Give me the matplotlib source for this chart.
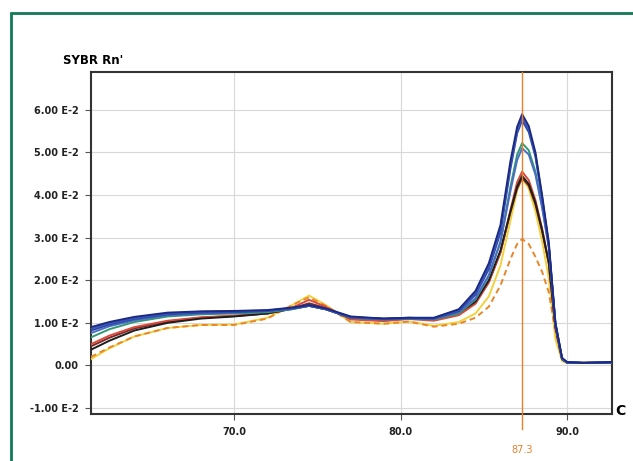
import matplotlib
matplotlib.use("Agg")
import matplotlib.pyplot as plt
from matplotlib.patches import Rectangle
import numpy as np

# temperature sampling points (deg C)
temps = [61.4, 62.5, 64, 66, 68, 70, 72, 73.5, 74.5, 75.5, 77, 79, 80.5, 82,
         83.5, 84.5, 85.3, 86.0, 86.6, 87.0, 87.3, 87.7, 88.1, 88.5, 88.9,
         89.3, 89.7, 90.0, 91, 92.7]

# derivative reporter signal, units of 1e-2
navy_a = [0.90, 1.02, 1.14, 1.24, 1.27, 1.28, 1.30, 1.36, 1.42, 1.34, 1.15, 1.10, 1.12, 1.12,
          1.32, 1.75, 2.40, 3.30, 4.80, 5.60, 5.90, 5.62, 5.00, 4.00, 2.90, 1.00, 0.18, 0.08, 0.06, 0.08]
navy_b = [0.86, 0.99, 1.11, 1.22, 1.26, 1.27, 1.29, 1.35, 1.41, 1.33, 1.14, 1.09, 1.11, 1.11,
          1.30, 1.70, 2.32, 3.20, 4.70, 5.50, 5.82, 5.55, 4.95, 3.95, 2.85, 0.98, 0.16, 0.07, 0.06, 0.07]
navy_c = [0.82, 0.96, 1.09, 1.20, 1.24, 1.25, 1.28, 1.34, 1.40, 1.32, 1.13, 1.09, 1.11, 1.10,
          1.28, 1.66, 2.26, 3.12, 4.62, 5.45, 5.75, 5.48, 4.90, 3.92, 2.82, 0.96, 0.16, 0.07, 0.06, 0.07]
teal = [0.66, 0.85, 1.02, 1.15, 1.20, 1.22, 1.25, 1.32, 1.40, 1.32, 1.12, 1.08, 1.10, 1.08,
        1.22, 1.55, 2.10, 2.90, 4.20, 4.95, 5.22, 5.05, 4.55, 3.75, 2.80, 1.00, 0.15, 0.07, 0.06, 0.07]
steel = [0.76, 0.92, 1.06, 1.18, 1.22, 1.24, 1.27, 1.33, 1.40, 1.32, 1.12, 1.08, 1.10, 1.09,
         1.25, 1.58, 2.12, 2.90, 4.10, 4.82, 5.10, 4.95, 4.48, 3.70, 2.78, 0.98, 0.15, 0.07, 0.06, 0.07]
red = [0.50, 0.70, 0.90, 1.05, 1.13, 1.17, 1.22, 1.36, 1.54, 1.38, 1.08, 1.04, 1.09, 1.05,
       1.18, 1.45, 1.95, 2.65, 3.65, 4.30, 4.55, 4.35, 3.88, 3.22, 2.42, 0.90, 0.15, 0.07, 0.06, 0.07]
black = [0.37, 0.58, 0.82, 1.00, 1.10, 1.15, 1.22, 1.33, 1.40, 1.32, 1.12, 1.10, 1.12, 1.10,
         1.24, 1.50, 2.00, 2.70, 3.62, 4.20, 4.45, 4.26, 3.82, 3.18, 2.42, 0.92, 0.15, 0.07, 0.06, 0.07]
maroon = [0.45, 0.65, 0.87, 1.03, 1.12, 1.16, 1.22, 1.34, 1.46, 1.35, 1.10, 1.07, 1.10, 1.08,
          1.22, 1.47, 1.96, 2.66, 3.60, 4.15, 4.40, 4.22, 3.78, 3.15, 2.40, 0.90, 0.15, 0.07, 0.06, 0.07]
yellow = [0.15, 0.40, 0.68, 0.88, 0.95, 0.96, 1.12, 1.42, 1.64, 1.42, 1.02, 0.98, 1.03, 0.93,
          1.02, 1.22, 1.62, 2.35, 3.40, 4.10, 4.40, 4.15, 3.62, 2.92, 2.05, 0.62, 0.10, 0.06, 0.06, 0.07]
orange = [0.20, 0.42, 0.68, 0.88, 0.95, 0.95, 1.10, 1.42, 1.60, 1.40, 1.02, 0.98, 1.03, 0.91,
          0.98, 1.12, 1.38, 1.88, 2.50, 2.85, 2.97, 2.85, 2.55, 2.20, 1.72, 0.80, 0.14, 0.06, 0.06, 0.07]

curves = [
    (yellow, "#f2d23c", "-"),
    (orange, "#e8862a", (0, (3, 2))),
    (maroon, "#7a2a2a", "-"),
    (red, "#d84a3a", "-"),
    (black, "#1e1e1e", "-"),
    (teal, "#2f9a72", "-"),
    (steel, "#4a6cc4", "-"),
    (navy_c, "#2c46a8", "-"),
    (navy_b, "#3a58b8", "-"),
    (navy_a, "#1c2a84", "-"),
]

y_ticks = [-1, 0, 1, 2, 3, 4, 5, 6]
y_labels = ["-1.00 E-2", "0.00", "1.00 E-2", "2.00 E-2", "3.00 E-2",
            "4.00 E-2", "5.00 E-2", "6.00 E-2"]
x_ticks = [70, 80, 90]
x_labels = ["70.0", "80.0", "90.0"]
tm = 87.3

fig = plt.figure(figsize=(6.33, 4.61), dpi=100)
ax = fig.add_axes([91 / 633, 1 - 414 / 461, 521 / 633, 342 / 461])

for vals, col, ls in curves:
    ax.plot(temps, vals, color=col, linestyle=ls, linewidth=1.4, zorder=3)

ax.plot([tm, tm], [-1.5, 6.89], color="#e8802a", linewidth=1.0, clip_on=False, zorder=4)

ax.set_xlim(61.4, 92.7)
ax.set_ylim(-1.14, 6.89)
ax.set_xticks(x_ticks)
ax.set_xticklabels(x_labels)
ax.set_yticks(y_ticks)
ax.set_yticklabels(y_labels)
ax.grid(True, color="#d8d8d8", linewidth=0.8, zorder=0)
ax.set_axisbelow(True)
ax.tick_params(axis="both", length=4, width=0.8, color="#555555", labelsize=7, pad=5)
for lab in ax.get_xticklabels() + ax.get_yticklabels():
    lab.set_fontweight("bold")
    lab.set_color("#222222")
for sp in ax.spines.values():
    sp.set_linewidth(1.5)
    sp.set_color("#333333")

ax.text(tm, -1.14 - 0.85, f"{tm:.1f}", color="#e8802a", fontsize=7, ha="center", va="center")
fig.text(620 / 633, 1 - 411 / 461, "C", fontsize=10, fontweight="bold", ha="center", va="center")
fig.text(63 / 633, 1 - 60 / 461, "SYBR Rn'", fontsize=8.5, fontweight="bold", ha="left", va="center")

border = Rectangle((11 / 633, -0.1), 1.2, 1 - 13 / 461 + 0.1, transform=fig.transFigure,
                   fill=False, edgecolor="#117a55", linewidth=2, clip_on=False)
fig.patches.append(border)

fig.savefig("out.png", dpi=100)
